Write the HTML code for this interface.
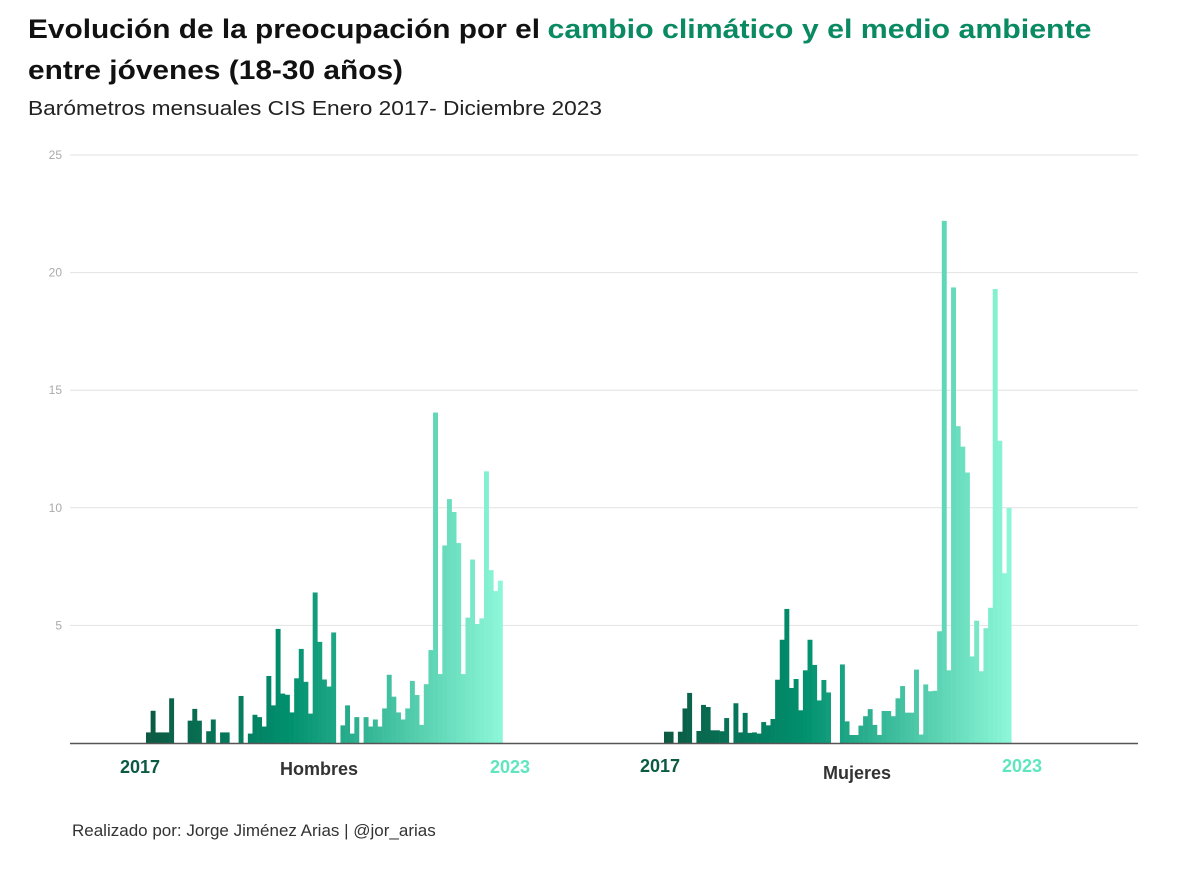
<!DOCTYPE html>
<html><head><meta charset="utf-8">
<style>
html,body{margin:0;padding:0;background:#fff;width:1200px;height:874px;overflow:hidden;font-family:"Liberation Sans",sans-serif;}
</style></head>
<body>
<svg id="chart" width="1200" height="874" xmlns="http://www.w3.org/2000/svg" font-family="Liberation Sans, sans-serif">
<text x="28" y="38" font-size="27" font-weight="bold" fill="#111"><tspan textLength="512" lengthAdjust="spacingAndGlyphs">Evolución de la preocupación por el</tspan> <tspan fill="#0a8a62" textLength="544" lengthAdjust="spacingAndGlyphs">cambio climático y el medio ambiente</tspan></text>
<text x="28" y="79" font-size="27" font-weight="bold" fill="#111" textLength="375" lengthAdjust="spacingAndGlyphs">entre jóvenes (18-30 años)</text>
<text x="28" y="115" font-size="20" fill="#222" textLength="574" lengthAdjust="spacingAndGlyphs">Barómetros mensuales CIS Enero 2017- Diciembre 2023</text>
<g id="grid"></g>
<g id="bars"></g>
<line x1="70" y1="743.5" x2="1138" y2="743.5" stroke="#555" stroke-width="1.5"/>
<text x="140" y="773" font-size="18" font-weight="bold" fill="#0b5a42" text-anchor="middle">2017</text>
<text x="319" y="775" font-size="18" font-weight="bold" fill="#333" text-anchor="middle">Hombres</text>
<text x="510" y="773" font-size="18" font-weight="bold" fill="#5fe6bf" text-anchor="middle">2023</text>
<text x="660" y="772" font-size="18" font-weight="bold" fill="#0b5a42" text-anchor="middle">2017</text>
<text x="857" y="779" font-size="18" font-weight="bold" fill="#333" text-anchor="middle">Mujeres</text>
<text x="1022" y="772" font-size="18" font-weight="bold" fill="#5fe6bf" text-anchor="middle">2023</text>
<text x="72" y="836" font-size="17" fill="#333">Realizado por: Jorge Jiménez Arias | @jor_arias</text>
</svg>
<script>
const yTicks = [5, 10, 15, 20, 25];
const hombres = [0.45,1.37,0.45,0.45,0.45,1.9,0,0,0,0.95,1.45,0.95,0,0.5,1.0,0,0.45,0.45,0,0,2.0,0,
0.4,1.2,1.1,0.7,2.85,1.6,4.85,2.1,2.05,1.3,2.75,4.0,2.6,1.25,6.4,4.3,2.7,2.4,4.7,
0,0.75,1.6,0.4,1.1,0,1.1,0.7,1.0,0.7,1.47,2.9,1.97,1.3,1.0,1.47,2.64,2.04,0.77,2.5,3.95,14.05,2.93,8.4,10.37,9.82,8.5,2.93,5.33,7.8,5.06,5.3,11.55,7.35,6.46,6.9];
const mujeres = [0.48,0.48,0,0.48,1.47,2.13,0,0.51,1.62,1.53,0.54,0.54,0.5,1.06,0,1.69,0.45,1.28,0.43,0.45,0.4,0.89,0.75,1.02,2.69,4.39,5.7,2.34,2.72,1.39,3.09,4.39,3.32,1.81,2.68,2.15,0,0,
3.34,0.92,0.34,0.34,0.74,1.14,1.44,0.77,0.34,1.36,1.36,1.14,1.9,2.42,1.29,1.29,3.12,0.36,2.49,2.2,2.22,4.75,22.2,3.09,19.37,13.47,12.6,11.5,3.68,5.2,3.05,4.88,5.75,19.3,12.85,7.22,10.0];

const NS = "http://www.w3.org/2000/svg";
const y0 = 743, yPerUnit = 23.52;
function yScale(v){ return y0 - v * yPerUnit; }
const barW = 4.63;
function xScale(start, i){ return start + i * barW; }
function lerp(a,b,t){ return Math.round(a+(b-a)*t); }
function colorAt(t){
  const c0=[12,90,67], c1=[0,144,110], c2=[140,247,216];
  let a,b,u;
  if(t<0.4){a=c0;b=c1;u=t/0.4;} else {a=c1;b=c2;u=(t-0.4)/0.6;}
  return `rgb(${lerp(a[0],b[0],u)},${lerp(a[1],b[1],u)},${lerp(a[2],b[2],u)})`;
}
const grid = document.getElementById('grid');
yTicks.forEach(v=>{
  const l=document.createElementNS(NS,'line');
  l.setAttribute('x1',70); l.setAttribute('x2',1138);
  l.setAttribute('y1',yScale(v)); l.setAttribute('y2',yScale(v));
  l.setAttribute('stroke','#e2e2e2'); l.setAttribute('stroke-width','1');
  
  
  grid.appendChild(l);
  const t=document.createElementNS(NS,'text');
  t.setAttribute('x',62); t.setAttribute('y',yScale(v)+4);
  t.setAttribute('text-anchor','end'); t.setAttribute('font-size','12'); t.setAttribute('fill','#aaa');
  t.textContent=v;
  
  
  grid.appendChild(t);
});
const bars = document.getElementById('bars');
function drawSeries(vals, start, name){
  vals.forEach((v,i)=>{
    if(v<=0) return;
    const r=document.createElementNS(NS,'rect');
    r.setAttribute('x',xScale(start,i)); r.setAttribute('width',barW+0.3);
    r.setAttribute('y',yScale(v)); r.setAttribute('height',y0-yScale(v));
    r.setAttribute('fill',colorAt(i/(vals.length-1)));
    
    
    bars.appendChild(r);
  });
}
drawSeries(hombres, 146, 'hombres');
drawSeries(mujeres, 664, 'mujeres');
</script>
</body></html>
